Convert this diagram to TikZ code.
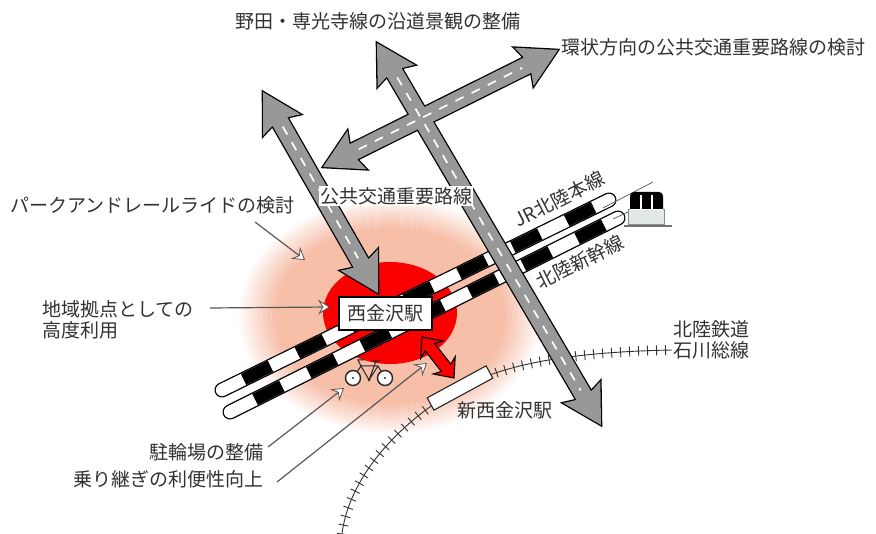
\documentclass[tikz,border=0pt]{standalone}
\usepackage{fontspec}
\setmainfont{Noto Sans CJK JP}
\usetikzlibrary{calc,arrows.meta,decorations.pathreplacing}

\definecolor{glowpink}{RGB}{247,190,168}
\definecolor{stationred}{RGB}{250,0,0}
\definecolor{roadgray}{RGB}{152,152,152}
\definecolor{inkgray}{RGB}{50,50,50}
\definecolor{trainbody}{RGB}{226,232,232}

% outline of a double-headed arrow between two named points:
% #1,#2 tips, #3 head length, #4 distance of the head/shaft joint,
% #5 head half width, #6 shaft half width
\newcommand{\dblarrowpath}[6]{%
  (#1) -- ($(#1)!#3!(#2)!#5!90:(#2)$)
  -- ($(#1)!#4!(#2)!#6!90:(#2)$)
  -- ($(#2)!#4!(#1)!#6!-90:(#1)$)
  -- ($(#2)!#3!(#1)!#5!-90:(#1)$)
  -- (#2)
  -- ($(#2)!#3!(#1)!#5!90:(#1)$)
  -- ($(#2)!#4!(#1)!#6!90:(#1)$)
  -- ($(#1)!#4!(#2)!#6!-90:(#2)$)
  -- ($(#1)!#3!(#2)!#5!-90:(#2)$)
  -- cycle}

\tikzset{
  roadedge/.style={draw=black, line width=2.6pt, line join=miter},
  roadbody/.style={fill=roadgray},
  roadmark/.style={draw=white, line width=1.7pt, dash pattern=on 9pt off 9pt},
  railedge/.style={draw=black, line width=15pt, line cap=round},
  railbase/.style={draw=white, line width=12.4pt, line cap=round},
  railstripe/.style={draw=black, line width=12.4pt, dash pattern=on 30pt off 30pt},
  leader/.style={draw=black!65, line width=1.2pt,
    -{Stealth[length=12pt, width=15pt, inset=4.5pt, fill=white, line width=0.8pt]}},
  label/.style={inner sep=0pt},
}

\begin{document}
\begin{tikzpicture}[x=1pt, y=-1pt, font=\fontsize{19}{21}\selectfont, text=inkgray]
\useasboundingbox (0,0) rectangle (876,534);
\fill[white] (0,0) rectangle (876,534);

% soft halo around the station: solid core, then fading rings
\coordinate (glow) at (390,316);
\fill[glowpink] (glow) ellipse [x radius=116pt, y radius=89pt];
\foreach \i in {1,...,14} {
  \pgfmathsetmacro{\rin}{116+2.5*(\i-1)}
  \pgfmathsetmacro{\rout}{116+2.5*\i}
  \pgfmathsetmacro{\qin}{89+2*(\i-1)}
  \pgfmathsetmacro{\qout}{89+2*\i}
  \pgfmathsetmacro{\op}{1-\i/15}
  \fill[glowpink, fill opacity=\op, even odd rule]
    (glow) ellipse [x radius=\rout pt, y radius=\qout pt]
    (glow) ellipse [x radius=\rin pt, y radius=\qin pt];
}
\fill[stationred] (390,313) ellipse [x radius=67pt, y radius=51pt];

% Hokuriku Railroad Ishikawa line
\coordinate (ishA) at (342,534);
\coordinate (ishM) at (460,388);
\coordinate (ishB) at (672,350);
\path[draw=black!80, line width=0.9pt,
      postaction={draw=black!80, line width=0.9pt, decorate,
        decoration={ticks, segment length=9pt, amplitude=5pt}}]
  (ishA) .. controls (350,470) and (410,415) .. (ishM)
         .. controls (505,364) and (570,352) .. (ishB);
\node[draw=black!85, fill=white, line width=1.1pt, rotate=28.5,
      minimum width=67pt, minimum height=14pt, inner sep=0pt] (shinnishi) at (ishM) {};

% JR Hokuriku main line and Hokuriku Shinkansen
\coordinate (jrA) at (222,390);
\coordinate (jrB) at (609,200);
\coordinate (skA) at (230,412);
\coordinate (skB) at (618,218);
\draw[railedge] (jrA) -- (jrB);
\draw[railbase] (jrA) -- (jrB);
\draw[railstripe, dash phase=36pt] (jrA) -- (jrB);
\draw[railedge] (skA) -- (skB);
\draw[railbase] (skA) -- (skB);
\draw[railstripe, dash phase=32pt] (skA) -- (skB);

% train
\draw[black!60, line width=0.8pt] (603,208) -- (653,182);
\draw[black!60, line width=0.8pt] (613,219) -- (630,211);
\fill[trainbody, draw=black!45, line width=0.6pt] (628,209) rectangle (664,224);
\draw[black!55, line width=1.6pt] (624,226) -- (672,226);
\fill[black] (630,209) -- (630,196) to[out=90,in=180] (634,192) -- (659,192)
  to[out=0,in=90] (663,196) -- (663,209) -- cycle;
\draw[white, line width=1.2pt] (641,195) -- (641,209) (652,195) -- (652,209);
\draw[white, line width=1pt] (630,209.5) -- (663,209.5);

% bicycle
\draw[black!85, line width=1pt] (353,378) -- (361,366) -- (378,366) -- (385,378)
  (361,366) -- (369,380) -- (378,366) (369,380) -- (376,361)
  (361,366) -- (358,360) -- (364,360) (372,361) -- (380,361);
\draw[black!85, fill=white, line width=1.4pt] (353,378) circle [radius=7.5pt];
\draw[black!85, fill=white, line width=1.4pt] (385,378) circle [radius=7.5pt];
\fill[black!85] (353,378) circle [radius=1.2pt] (385,378) circle [radius=1.2pt]
  (369,380) circle [radius=1.5pt];

% transfer link between the two stations
\coordinate (linkA) at (422,337);
\coordinate (linkB) at (454,378);
\draw[fill=stationred, draw=black, line width=1.1pt, line join=miter]
  \dblarrowpath{linkA}{linkB}{16pt}{13pt}{14pt}{6pt};

% roads
\coordinate (rdA1) at (263,92);
\coordinate (rdA2) at (378,293);
\coordinate (rdB1) at (377,43);
\coordinate (rdB2) at (601,425);
\coordinate (rdC1) at (323,167);
\coordinate (rdC2) at (558,50);
\path[roadedge] \dblarrowpath{rdA1}{rdA2}{38pt}{34pt}{21.5pt}{8.5pt};
\path[roadbody] \dblarrowpath{rdA1}{rdA2}{38pt}{34pt}{21.5pt}{8.5pt};
\path[roadmark] ($(rdA1)!40pt!(rdA2)$) -- ($(rdA2)!40pt!(rdA1)$);
\path[roadedge] \dblarrowpath{rdB1}{rdB2}{38pt}{34pt}{21.5pt}{8.5pt};
\path[roadedge] \dblarrowpath{rdC1}{rdC2}{38pt}{34pt}{21.5pt}{8.5pt};
\path[roadbody] \dblarrowpath{rdB1}{rdB2}{38pt}{34pt}{21.5pt}{8.5pt};
\path[roadbody] \dblarrowpath{rdC1}{rdC2}{38pt}{34pt}{21.5pt}{8.5pt};
\path[roadmark] ($(rdB1)!40pt!(rdB2)$) -- ($(rdB2)!40pt!(rdB1)$);
\path[roadmark] ($(rdC1)!40pt!(rdC2)$) -- ($(rdC2)!40pt!(rdC1)$);

% Nishi-Kanazawa station
\node[draw=black, fill=white, line width=1.4pt, minimum width=93pt,
      minimum height=33pt, inner sep=0pt] (nishi) at (385.5,313.5) {西金沢駅};

% labels
\node[label] (tNoda) at (377.5,21) {野田・専光寺線の沿道景観の整備};
\node[label, anchor=west] (tRing) at (561,47) {環状方向の公共交通重要路線の検討};
\node[label, anchor=west] (tPR) at (10,205) {パークアンドレールライドの検討};
\node[label, fill=white, inner sep=1pt] (tTrunk) at (396,196) {公共交通重要路線};
\node[label, anchor=west, align=left] (tHub) at (42,319.5) {地域拠点としての\\高度利用};
\node[label, rotate=27] (tJR) at (559,199) {JR北陸本線};
\node[label, rotate=26] (tSK) at (580,262) {北陸新幹線};
\node[label, anchor=west, align=left] (tIsh) at (673,339.5) {北陸鉄道\\石川総線};
\node[label] (tShin) at (505,410) {新西金沢駅};
\node[label, anchor=east] (tBike) at (264,452) {駐輪場の整備};
\node[label, anchor=east] (tTransfer) at (264,479.5) {乗り継ぎの利便性向上};

% leader lines with pointer marks
\coordinate (prFrom) at (255,222);
\coordinate (prTo) at (305,260);
\coordinate (hubFrom) at (210,308);
\coordinate (hubTo) at (330,307);
\coordinate (bikeFrom) at (268,447);
\coordinate (bikeTo) at (344,388);
\coordinate (trFrom) at (277,482);
\coordinate (trTo) at (427,363);
\draw[leader] (prFrom) -- (prTo);
\draw[leader] (hubFrom) -- (hubTo);
\draw[leader] (bikeFrom) -- (bikeTo);
\draw[leader] (trFrom) -- (trTo);
\end{tikzpicture}
\end{document}
